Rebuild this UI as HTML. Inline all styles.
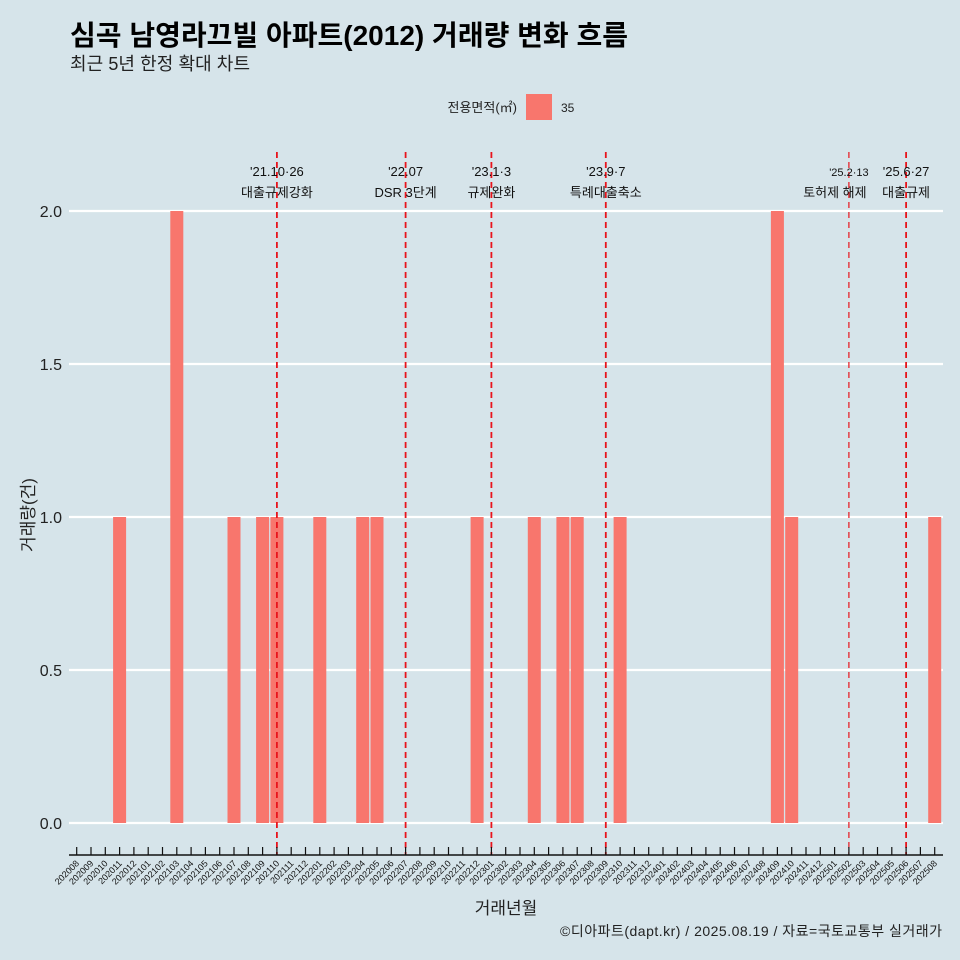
<!DOCTYPE html>
<html><head><meta charset="utf-8"><style>
body{margin:0;background:#d6e4ea;}
svg{display:block;font-family:"Liberation Sans","Noto Sans CJK KR",sans-serif;}
</style></head><body>
<svg id="c" width="960" height="960" viewBox="0 0 960 960">
<rect x="0" y="0" width="960" height="960" fill="#d6e4ea"/>
<text x="70" y="45" font-size="28" font-weight="bold" fill="#000" textLength="558">심곡 남영라끄빌 아파트(2012) 거래량 변화 흐름</text>
<text x="70" y="70" font-size="18" fill="#222" textLength="180">최근 5년 한정 확대 차트</text>
<text x="517" y="112" font-size="13" text-anchor="end" fill="#222">전용면적(㎡)</text>
<rect x="526" y="94" width="26" height="26" fill="#f8766d"/>
<text x="561" y="112" font-size="12" fill="#222">35</text>
<text x="34" y="515" font-size="17" fill="#222" text-anchor="middle" transform="rotate(-90 34 515)">거래량(건)</text>
<text x="506" y="914" font-size="17" fill="#222" text-anchor="middle">거래년월</text>
<text x="942" y="936" font-size="14" fill="#222" text-anchor="end" textLength="382">©디아파트(dapt.kr) / 2025.08.19 / 자료=국토교통부 실거래가</text>
<g id="grid"></g><g id="bars"></g><g id="vlines"></g><g id="axis"></g>
</svg>
<script>
const months = [];
for (let y = 2020; y <= 2025; y++) for (let m = 1; m <= 12; m++) { const k = y * 100 + m; if (k >= 202008 && k <= 202508) months.push(String(k)); }
const barMonths = ["202011","202103","202107","202109","202110","202201","202204","202205","202212","202304","202306","202307","202310","202409","202410","202508"];
const barValues = [1,2,1,1,1,1,1,1,1,1,1,1,1,2,1,1];
const yTicks = [0,0.5,1,1.5,2];
const yTickLabels = ["0.0","0.5","1.0","1.5","2.0"];
const eventMonths = ["202110","202207","202301","202309","202502","202506"];
const eventDates = ["'21.10·26","'22.07","'23.1·3","'23.9·7","'25.2·13","'25.6·27"];
const eventNames = ["대출규제강화","DSR 3단계","규제완화","특례대출축소","토허제 해제","대출규제"];

const NS = "http://www.w3.org/2000/svg";
const x0 = 76.7, step = 14.3;
const xs = m => x0 + months.indexOf(m) * step;
const ys = v => 823 - v * 306;
function mk(tag, attrs, parent) { const e = document.createElementNS(NS, tag); for (const k in attrs) e.setAttribute(k, attrs[k]); document.getElementById(parent).appendChild(e); return e; }

yTicks.forEach((t, i) => {
  const l = mk("line", {x1: 69, x2: 943, y1: ys(t), y2: ys(t), stroke: "#fff", "stroke-width": 2.2}, "grid");
  
  
  const tx = mk("text", {x: 62, y: ys(t) + 6, "font-size": 16, "text-anchor": "end", fill: "#222"}, "grid");
  tx.textContent = yTickLabels[i];
  
  
});
barMonths.forEach((m, i) => {
  const r = mk("rect", {x: xs(m) - 6.5, y: ys(barValues[i]), width: 13, height: ys(0) - ys(barValues[i]), fill: "#f8766d"}, "bars");
  
  
});
eventMonths.forEach((m, i) => {
  const x = xs(m);
  const thin = m === "202502";
  const l = mk("line", {x1: x, x2: x, y1: 152, y2: 855, stroke: "#e8141c", "stroke-width": thin ? 1.2 : 1.8, "stroke-dasharray": "6 4"}, "vlines");
  
  
  const fs = thin ? 11 : 13;
  const t1 = mk("text", {x: x, y: 176, "font-size": fs, "text-anchor": "middle", fill: "#111"}, "vlines");
  t1.textContent = eventDates[i];
  
  
  const t2 = mk("text", {x: thin ? x - 14 : x, y: 197, "font-size": 13, "text-anchor": "middle", fill: "#111"}, "vlines");
  t2.textContent = eventNames[i];
  
  
});
const ax = mk("line", {x1: 69, x2: 943, y1: 855, y2: 855, stroke: "#111", "stroke-width": 1.5}, "axis");


months.forEach(m => {
  const x = xs(m);
  const t = mk("line", {x1: x, x2: x, y1: 847, y2: 855, stroke: "#111", "stroke-width": 1.2}, "axis");
  
  
  const tx = mk("text", {x: x + 3, y: 864, "font-size": 9, "text-anchor": "end", fill: "#111", transform: `rotate(-45 ${x + 3} 864)`}, "axis");
  tx.textContent = m;
  
  
});
</script>
</body></html>
